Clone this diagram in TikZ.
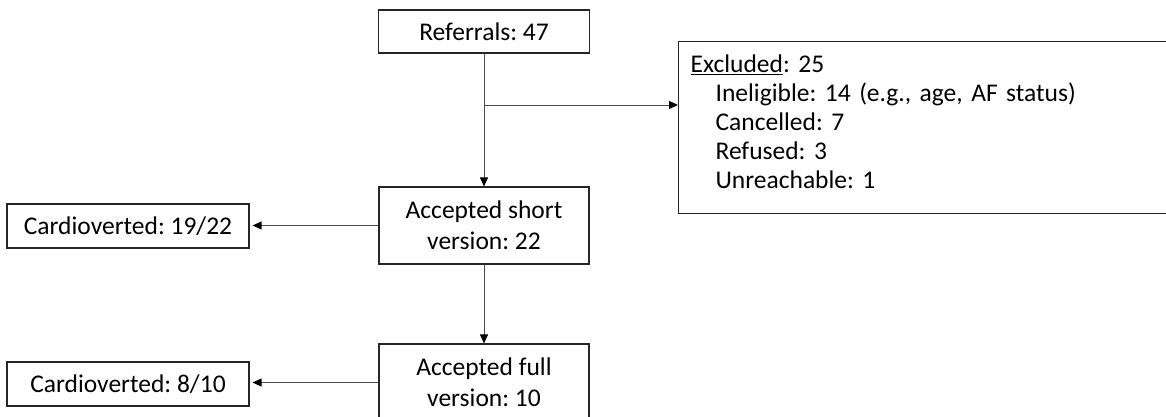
\documentclass[tikz,border=0pt]{standalone}
\usepackage{fontspec}
\setmainfont{Carlito}
\frenchspacing
\usetikzlibrary{arrows.meta,positioning}

\begin{document}
\begin{tikzpicture}[x=1pt,y=-1pt,
  box/.style={draw=black!85,line width=1.2pt,align=center,inner sep=0pt,
    font=\fontsize{25.5}{31}\selectfont},
  link/.style={draw=black!70,line width=1pt,-{Triangle[length=9pt,width=8pt,color=black]}}]
  \useasboundingbox (0,0) rectangle (1166,416);
  \clip (0,0) rectangle (1166,416);
  % Main column
  \node[box,minimum width=211pt,minimum height=43pt] (ref) at (484,31.5) {Referrals: 47};
  \node[box,minimum width=210pt,minimum height=77pt] (short) at (484,225.5) {Accepted short\\version: 22};
  \node[box,minimum width=210pt,minimum height=77pt] (full) at (484,382.5) {Accepted full\\version: 10};
  % Outcomes on the left
  \node[box,minimum width=242pt,minimum height=44pt] (cshort) at (128,226) {Cardioverted: 19/22};
  \node[box,minimum width=242pt,minimum height=44pt] (cfull) at (128,384) {Cardioverted: 8/10};
  % Exclusions on the right
  \node[box,anchor=north west,align=left,minimum width=530pt,minimum height=172pt,
    text width=506pt,inner xsep=12pt,font=\fontsize{25.5}{29}\selectfont] (excl) at (678,41)
    {\underline{Excluded}: 25\\
     \hspace*{25pt}Ineligible: 14 (e.g., age, AF status)\\
     \hspace*{25pt}Cancelled: 7\\
     \hspace*{25pt}Refused: 3\\
     \hspace*{25pt}Unreachable: 1\rule[-12pt]{0pt}{12pt}};
  % Connectors
  \coordinate (split) at (484,105);
  \draw[link] (ref) -- (short);
  \draw[link] (split) -- (split -| excl.west);
  \draw[link] (short) -- (full);
  \draw[link,shorten >=3pt] (short.west) -- (short.west -| cshort.east);
  \draw[link,shorten >=3pt] (full.west) -- (full.west -| cfull.east);
\end{tikzpicture}
\end{document}
